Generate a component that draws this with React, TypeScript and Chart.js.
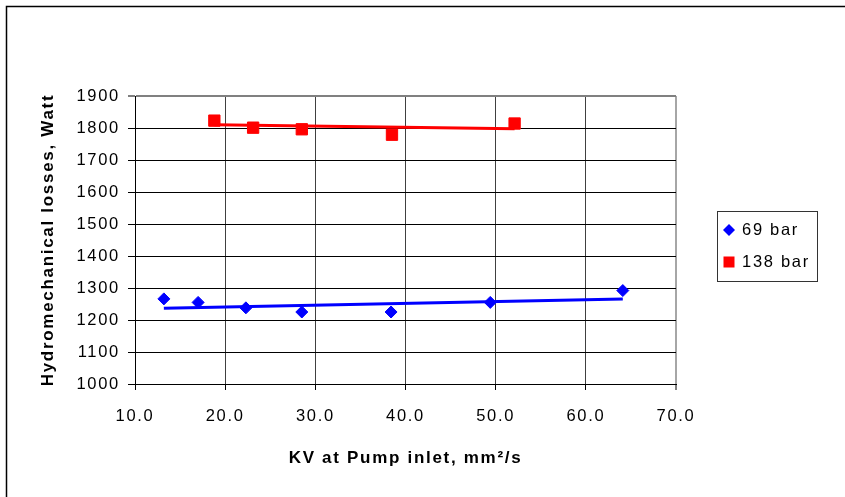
import React, { useEffect, useRef } from 'react';
import { Chart, registerables } from 'chart.js';

Chart.register(...registerables);

// ---- data ----
const kv69 = [13.2, 17.0, 22.3, 28.5, 38.4, 49.4, 64.1];
const loss69 = [1266, 1255, 1238, 1225, 1225, 1255, 1292];
const kv138 = [18.8, 23.1, 28.5, 38.5, 52.1];
const loss138 = [1823, 1801, 1796, 1779, 1814];
const trendKv69 = [13.2, 64.1];
const trendLoss69 = [1237, 1266];
const trendKv138 = [18.8, 52.1];
const trendLoss138 = [1810, 1798];
const seriesLabels = ['69 bar', '138 bar'];
const xTitle = 'KV at Pump inlet, mm²/s';
const yTitle = 'Hydromechanical losses, Watt';
const xMin = 10;
const xMax = 70;
const xStep = 10;
const yMin = 1000;
const yMax = 1900;
const yStep = 100;

const FONT = '"Liberation Sans", Arial, sans-serif';
const SPACING = '1.7px';
const BLUE = '#0000ff';
const RED = '#ff0000';

const toPts = (xs: number[], ys: number[]) => xs.map((x, i) => ({ x, y: ys[i] }));

const decor = {
  id: 'decor',
  beforeDraw(chart: any) {
    (chart.ctx as any).letterSpacing = SPACING;
  },
  afterDraw(chart: any) {
    const ctx = chart.ctx;
    ctx.save();
    (ctx as any).letterSpacing = SPACING;
    // outer frame (left and top edges visible)
    ctx.strokeStyle = '#000';
    ctx.lineWidth = 1.5;
    ctx.beginPath();
    ctx.moveTo(6.5, 497);
    ctx.lineTo(6.5, 6.5);
    ctx.lineTo(845, 6.5);
    ctx.stroke();

    // legend box
    ctx.strokeStyle = '#333';
    ctx.lineWidth = 1;
    ctx.strokeRect(717.5, 211.5, 100, 70);
    const ds = chart.data.datasets;
    // diamond
    ctx.fillStyle = ds[0].backgroundColor;
    ctx.beginPath();
    ctx.moveTo(729, 224);
    ctx.lineTo(735, 230);
    ctx.lineTo(729, 236);
    ctx.lineTo(723, 230);
    ctx.closePath();
    ctx.fill();
    // square
    ctx.fillStyle = ds[1].backgroundColor;
    ctx.fillRect(723.5, 256.5, 11, 11);
    ctx.fillStyle = '#000';
    ctx.font = `16.5px ${FONT}`;
    ctx.textBaseline = 'middle';
    ctx.textAlign = 'left';
    ctx.fillText(ds[0].label, 742, 230);
    ctx.fillText(ds[1].label, 742, 262.5);
    ctx.restore();
  },
};

export default function App() {
  const ref = useRef<HTMLCanvasElement | null>(null);

  useEffect(() => {
    if (!ref.current) return;
    const chart = new Chart(ref.current, {
      type: 'scatter',
      data: {
        datasets: [
          {
            label: seriesLabels[0],
            data: toPts(kv69, loss69),
            backgroundColor: BLUE,
            borderColor: BLUE,
            pointStyle: 'rectRot',
            pointRadius: 6,
            pointBorderWidth: 1,
            showLine: false,
          },
          {
            label: seriesLabels[1],
            data: toPts(kv138, loss138),
            backgroundColor: RED,
            borderColor: RED,
            pointStyle: 'rect',
            pointRadius: 8,
            pointBorderWidth: 1,
            showLine: false,
          },
          {
            label: 'trend 69',
            data: toPts(trendKv69, trendLoss69),
            borderColor: BLUE,
            backgroundColor: BLUE,
            showLine: true,
            borderWidth: 3,
            pointRadius: 0,
          },
          {
            label: 'trend 138',
            data: toPts(trendKv138, trendLoss138),
            borderColor: RED,
            backgroundColor: RED,
            showLine: true,
            borderWidth: 3,
            pointRadius: 0,
          },
        ],
      },
      options: {
        responsive: false,
        animation: false,
        devicePixelRatio: 1,
        layout: { padding: { left: 0, top: 96, right: 169, bottom: 0 } },
        plugins: {
          legend: { display: false },
          tooltip: { enabled: false },
          title: { display: false },
        },
        scales: {
          x: {
            type: 'linear',
            min: xMin,
            max: xMax,
            afterFit: (s: any) => {
              s.height = 113;
            },
            ticks: {
              stepSize: xStep,
              autoSkip: false,
              maxRotation: 0,
              padding: 17,
              color: '#000',
              font: { family: FONT, size: 16.5 },
              callback: (v: any) => Number(v).toFixed(1),
            },
            grid: {
              color: (c: any) =>
                c.tick && c.tick.value === xMax ? '#a6a6a6' : c.tick && c.tick.value === xMin ? '#000' : '#404040',
              lineWidth: (c: any) => (c.tick && c.tick.value === xMax ? 2 : 1),
              tickColor: '#000',
              tickWidth: 1,
              tickLength: 6,
              drawTicks: true,
            },
            border: { color: '#000', width: 1 },
            title: {
              display: true,
              text: xTitle,
              color: '#000',
              font: { family: FONT, size: 17, weight: 'bold' },
              padding: { top: 0, bottom: 28.5 },
            },
          },
          y: {
            type: 'linear',
            min: yMin,
            max: yMax,
            afterFit: (s: any) => {
              s.width = 135;
            },
            ticks: {
              stepSize: yStep,
              padding: 8,
              color: '#000',
              font: { family: FONT, size: 16.5 },
              callback: (v: any) => String(v),
            },
            grid: {
              color: (c: any) => (c.tick && c.tick.value === yMax ? '#808080' : '#000'),
              lineWidth: (c: any) => (c.tick && c.tick.value === yMax ? 2 : 1),
              tickColor: '#000',
              tickWidth: 1,
              tickLength: 7,
              drawTicks: true,
            },
            border: { color: '#000', width: 1 },
            title: {
              display: true,
              text: yTitle,
              color: '#000',
              font: { family: FONT, size: 17, weight: 'bold' },
              padding: { top: 38, bottom: 0 },
            },
          },
        },
      },
      plugins: [decor],
    } as any);
    return () => chart.destroy();
  }, []);

  return (
    <div style={{ position: 'absolute', left: 0, top: 0, width: 845, height: 497, background: '#fff' }}>
      <canvas ref={ref} width={845} height={497} style={{ display: 'block' }} />
    </div>
  );
}
